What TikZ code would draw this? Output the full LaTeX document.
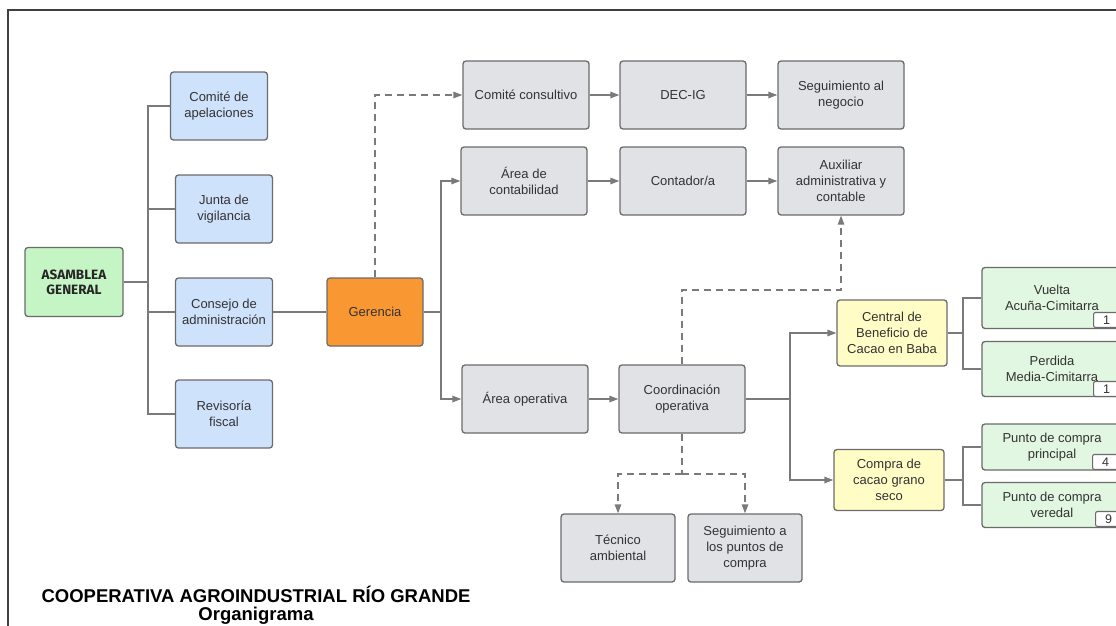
\documentclass[tikz,border=0pt]{standalone}
\usepackage{fontspec}
\setmainfont{Liberation Sans}
\newfontfamily\markerfont{Fira Sans}
\usetikzlibrary{calc,arrows.meta}

\definecolor{boxgray}{HTML}{E0E2E6}
\definecolor{boxblue}{HTML}{CFE2FB}
\definecolor{boxgreen}{HTML}{C5F5C5}
\definecolor{leafgreen}{HTML}{E1F7E1}
\definecolor{boxyellow}{HTML}{FFFCC6}
\definecolor{boxorange}{HTML}{F99732}
\definecolor{edgegray}{HTML}{6B6B6B}
\definecolor{wiregray}{HTML}{7A7A7A}
\definecolor{textgray}{HTML}{333333}

\begin{document}
\begin{tikzpicture}[x=1pt,y=-1pt,
                        unit/.style={draw=edgegray,line width=1.3pt,rounded corners=3pt,align=center,inner sep=0pt,
                                     text=textgray,font=\fontsize{13}{16}\selectfont},
                        staff/.style={unit,fill=boxgray,minimum width=126pt,minimum height=68pt},
                        organ/.style={unit,fill=boxblue,minimum width=97pt,minimum height=68pt},
                        assembly/.style={unit,fill=boxgreen,minimum width=98pt,minimum height=69pt,
                                         font=\markerfont\bfseries\fontsize{13.5}{15}\selectfont,text=black!85},
                        manager/.style={unit,fill=boxorange,minimum width=96pt,minimum height=68pt},
                        plant/.style={unit,fill=boxyellow,minimum width=110pt},
                        site/.style={unit,fill=leafgreen,minimum width=140pt},
                        badge/.style={draw=edgegray,fill=white,line width=1.1pt,rounded corners=2pt,inner sep=0pt,
                                      minimum width=26pt,minimum height=15pt,text=textgray,font=\fontsize{12.5}{13}\selectfont},
                        wire/.style={draw=wiregray,line width=1.3pt},
                        link/.style={wire,-{Triangle[length=9pt,width=6.5pt]}},
                        hint/.style={link,dash pattern=on 7pt off 5pt}]
      \useasboundingbox (0,0) rectangle (1116,625);
      \draw[line width=1.5pt,draw=black!75] (8,10) rectangle (1130,640);

      % left column
      \node[assembly] (asamblea) at (74,282) {ASAMBLEA\\GENERAL};
      \node[organ] (apelaciones) at (219,106) {Comité de\\apelaciones};
      \node[organ] (vigilancia) at (224,209) {Junta de\\vigilancia};
      \node[organ] (consejo) at (224,312) {Consejo de\\administración};
      \node[organ] (revisoria) at (224,414) {Revisoría\\fiscal};

      \node[manager] (gerencia) at (375,312) {Gerencia};

      % staff boxes
      \node[staff] (consultivo) at (526,95) {Comité consultivo};
      \node[staff] (decig) at (683,95) {DEC-IG};
      \node[staff] (negocio) at (841,95) {Seguimiento al\\negocio};
      \node[staff] (contabilidad) at (524,181) {Área de\\contabilidad};
      \node[staff] (contador) at (683,181) {Contador/a};
      \node[staff] (auxiliar) at (841,181) {Auxiliar\\administrativa y\\contable};
      \node[staff] (operativa) at (525,399) {Área operativa};
      \node[staff] (coordinacion) at (682,399) {Coordinación\\operativa};
      \node[staff,minimum width=114pt] (tecnico) at (618,548) {Técnico\\ambiental};
      \node[staff,minimum width=114pt] (puntos) at (745,548) {Seguimiento a\\los puntos de\\compra};

      % plants and sites
      \node[plant,minimum height=66pt] (central) at (892,333) {Central de\\Beneficio de\\Cacao en Baba};
      \node[plant,minimum height=61pt] (compra) at (889,480) {Compra de\\cacao grano\\seco};
      \node[site,minimum height=61pt] (vuelta) at (1052,298) {Vuelta\\Acuña-Cimitarra};
      \node[site,minimum height=55pt] (perdida) at (1052,369) {Perdida\\Media-Cimitarra};
      \node[site,minimum height=46pt] (principal) at (1052,447) {Punto de compra\\principal};
      \node[site,minimum height=45pt] (veredal) at (1052,505) {Punto de compra\\veredal};
      \node[badge,anchor=south west] (vueltanum) at (1093,328) {1};
      \node[badge,anchor=south west] (perdidanum) at (1093,397) {1};
      \node[badge,anchor=south west] (principalnum) at (1092,470) {4};
      \node[badge,anchor=south west] (veredalnum) at (1095,527) {9};

      % title
      \node[anchor=base,font=\bfseries\fontsize{18.5}{22}\selectfont] (title) at (256,602)
        {COOPERATIVA AGROINDUSTRIAL RÍO GRANDE};
      \node[anchor=base,font=\bfseries\fontsize{18.5}{22}\selectfont] (subtitle) at (256,620) {Organigrama};

      % connectors
      \coordinate (abus) at (148,282);
      \draw[wire] (asamblea) -- (abus);
      \foreach \n in {apelaciones,vigilancia,consejo,revisoria}
        \draw[wire] (abus) |- (\n);
      \draw[wire] (consejo) -- (gerencia);

      \draw[hint] (gerencia.north) |- (consultivo);
      \coordinate (gbus) at (441,312);
      \draw[wire] (gerencia) -- (gbus);
      \draw[link] (gbus) |- (contabilidad);
      \draw[link] (gbus) |- (operativa);

      \draw[link] (consultivo) -- (decig);
      \draw[link] (decig) -- (negocio);
      \draw[link] (contabilidad) -- (contador);
      \draw[link] (contador) -- (auxiliar);
      \draw[link] (operativa) -- (coordinacion);

      \coordinate (ubus) at (682,290);
      \draw[hint] (coordinacion.north) -- (ubus) -| (auxiliar.south);

      \coordinate (cbus) at (790,399);
      \draw[wire] (coordinacion) -- (cbus);
      \draw[link] (cbus) |- (central);
      \draw[link] (cbus) |- (compra);

      \coordinate (dbus) at (682,474);
      \draw[wire,dash pattern=on 7pt off 5pt] (coordinacion.south) -- (dbus);
      \draw[hint] (dbus) -| (tecnico);
      \draw[hint] (dbus) -| (puntos);

      \coordinate (pbus) at (963,333);
      \draw[wire] (central) -- (pbus);
      \draw[wire] (pbus) |- (vuelta);
      \draw[wire] (pbus) |- (perdida);
      \coordinate (sbus) at (963,480);
      \draw[wire] (compra) -- (sbus);
      \draw[wire] (sbus) |- (principal);
      \draw[wire] (sbus) |- (veredal);
    \end{tikzpicture}
\end{document}
